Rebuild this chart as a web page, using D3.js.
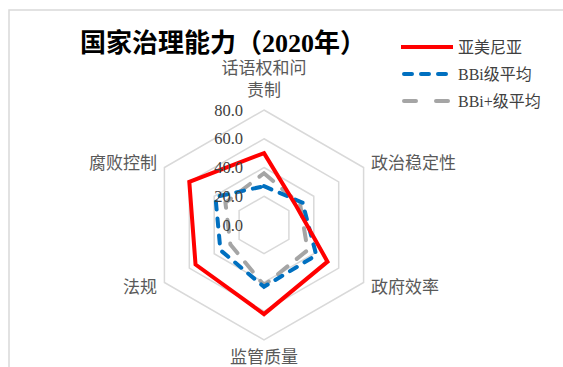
<!DOCTYPE html>
<html>
<head>
<meta charset="utf-8">
<script src="https://cdn.jsdelivr.net/npm/d3@7"></script>
<style>
  html, body { margin: 0; padding: 0; background: #ffffff; }
  svg { display: block; }
</style>
</head>
<body>
<svg id="chart" width="563" height="367"></svg>
<script>
// ---- data ----
const title = "国家治理能力（2020年）";
const categories = [["话语权和问", "责制"], ["政治稳定性"], ["政府效率"], ["监管质量"], ["法规"], ["腐败控制"]];
const seriesNames = ["亚美尼亚", "BBi级平均", "BBi+级平均"];
const armenia = [50, 26, 51, 62, 55, 60];
const bbiAvg = [27, 31, 42, 43, 35, 39];
const bbiPlusAvg = [36, 29, 35, 42, 27, 31];
const tickValues = [0, 20, 40, 60, 80];
const tickLabels = ["0.0", "20.0", "40.0", "60.0", "80.0"];

// ---- layout ----
const svg = d3.select("#chart");
const cx = 264, cy = 225, R = 115;
const r = d3.scaleLinear().domain([0, 80]).range([0, R]);
const n = categories.length;
const angle = d3.scaleLinear().domain([0, n]).range([0, 2 * Math.PI]);
const pt = (i, v) => [cx + r(v) * Math.sin(angle(i)), cy - r(v) * Math.cos(angle(i))];

// chart area border
svg.append("rect").attr("x", 9).attr("y", 10).attr("width", 600).attr("height", 400)
  .attr("fill", "#fff").attr("stroke", "#d9d9d9").attr("stroke-width", 1.5);

// grid rings
const ringLine = d3.line().curve(d3.curveLinearClosed);
tickValues.filter(t => t > 0).forEach(t => {
  svg.append("path")
    .attr("d", ringLine(d3.range(n).map(i => pt(i, t))))
    .attr("fill", "none").attr("stroke", "#d9d9d9").attr("stroke-width", 1.5);
});

// series
const styles = [
  { data: bbiPlusAvg, color: "#a5a5a5", dash: "12 12" },
  { data: bbiAvg, color: "#0070c0", dash: "8 9" },
  { data: armenia, color: "#ff0000", dash: null }
];
styles.forEach(s => {
  svg.append("path")
    .attr("d", ringLine(s.data.map((v, i) => pt(i, v))))
    .attr("fill", "none").attr("stroke", s.color).attr("stroke-width", 4)
    .attr("stroke-linejoin", "miter")
    .attr("stroke-linecap", s.dash ? "round" : "butt")
    .attr("stroke-dasharray", s.dash);
});

// tick labels
tickValues.forEach((t, k) => {
  svg.append("text")
    .attr("x", cx - 21).attr("y", cy - r(t))
    .attr("text-anchor", "end").attr("dominant-baseline", "central")
    .attr("font-family", "'Liberation Serif', 'Times New Roman', serif")
    .attr("font-size", 16.5).attr("fill", "#404040")
    .text(tickLabels[k]);
});

// category labels
const pad = 8.5;
categories.forEach((lines, i) => {
  const a = angle(i);
  const s = Math.sin(a), c = Math.cos(a);
  const x = cx + (R + pad) * s, y = cy - (R + pad) * c;
  const anchor = Math.abs(s) < 0.01 ? "middle" : (s > 0 ? "start" : "end");
  const t = svg.append("text")
    .attr("text-anchor", anchor)
    .attr("font-family", "'Noto Sans CJK SC', sans-serif")
    .attr("font-size", 17).attr("fill", "#595959");
  let y0;
  const lh = 22;
  if (c > 0.99) y0 = y - 6 - (lines.length - 1) * lh;      // top
  else if (c < -0.99) y0 = y + 14;                          // bottom
  else y0 = y + 6;
  lines.forEach((ln, j) => {
    t.append("tspan").attr("x", x).attr("y", y0 + j * lh).text(ln);
  });
});

// title
svg.append("text").attr("x", 80).attr("y", 52)
  .attr("font-family", "'Liberation Serif', 'Noto Sans CJK SC', serif")
  .attr("font-weight", "bold").attr("font-size", 26).attr("fill", "#000")
  .text(title);

// legend
const legendY = [47, 74, 101];
const legendStyles = [
  { color: "#ff0000", dash: null },
  { color: "#0070c0", dash: "8 9" },
  { color: "#a5a5a5", dash: "12 20" }
];
seriesNames.forEach((name, i) => {
  const ls = legendStyles[i];
  svg.append("line")
    .attr("x1", ls.dash ? 404 : 401).attr("x2", ls.dash ? 451 : 453)
    .attr("y1", legendY[i]).attr("y2", legendY[i])
    .attr("stroke", ls.color).attr("stroke-width", 4)
    .attr("stroke-linecap", ls.dash ? "round" : "butt")
    .attr("stroke-dasharray", ls.dash);
  svg.append("text").attr("x", 458).attr("y", legendY[i])
    .attr("dominant-baseline", "central")
    .attr("font-family", "'Liberation Serif', 'Noto Sans CJK SC', serif")
    .attr("font-size", 16).attr("fill", "#404040")
    .text(name);
});
</script>
</body>
</html>
